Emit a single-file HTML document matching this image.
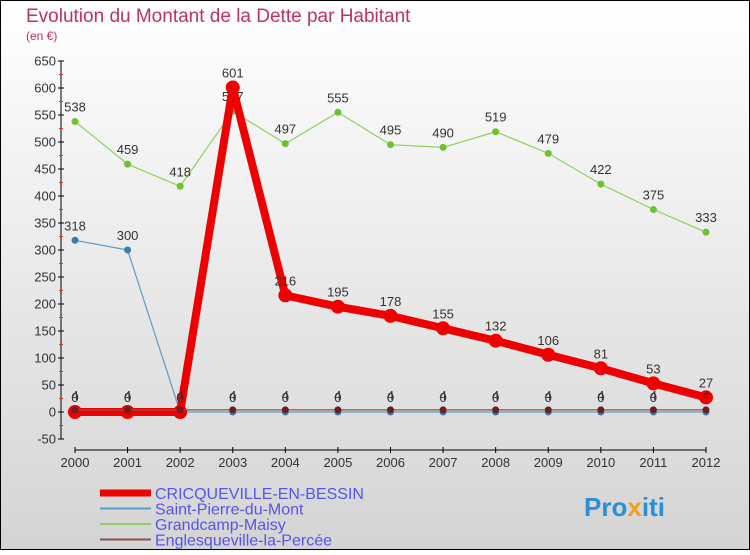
<!DOCTYPE html>
<html><head><meta charset="utf-8"><style>
html,body{margin:0;padding:0}
body{width:750px;height:550px;overflow:hidden;font-family:"Liberation Sans",sans-serif}
svg text{font-family:"Liberation Sans",sans-serif}
</style></head><body>
<svg id="chart" width="750" height="550" xmlns="http://www.w3.org/2000/svg">
<defs><linearGradient id="bg" x1="0" y1="0" x2="0" y2="1"><stop offset="0" stop-color="#ffffff"/><stop offset="1" stop-color="#d4d4d4"/></linearGradient></defs>
<rect x="0.5" y="0.5" width="749" height="549" fill="url(#bg)" stroke="#000"/>
<text x="26" y="22" font-size="19" fill="#c0335e">Evolution du Montant de la Dette par Habitant</text>
<text x="26" y="40" font-size="12" fill="#c0335e">(en €)</text>
<g id="axes"></g>
<g id="series"></g>
<g id="legend"></g>
<text x="584" y="516" font-size="26" font-weight="bold" fill="#2a8fd6">Pro<tspan fill="#f0a020">x</tspan>iti</text>
</svg>
<script>
const years = [2000,2001,2002,2003,2004,2005,2006,2007,2008,2009,2010,2011,2012];
const yTicks = [-50,0,50,100,150,200,250,300,350,400,450,500,550,600,650];
const cricoValues = [0,0,0,601,216,195,178,155,132,106,81,53,27];
const stPierreValues = [318,300,0,0,0,0,0,0,0,0,0,0,0];
const grandcampValues = [538,459,418,557,497,555,495,490,519,479,422,375,333];
const englesValues = [4,4,4,4,4,4,4,4,4,4,4,4,4];
const seriesNames = ["CRICQUEVILLE-EN-BESSIN","Saint-Pierre-du-Mont","Grandcamp-Maisy","Englesqueville-la-Percée"];

const NS="http://www.w3.org/2000/svg";
function xS(i){return 75+i*(706-75)/(years.length-1);}
function yS(v){return 412-v*(412-61)/650;}
function mk(tag,attrs,parent){const e=document.createElementNS(NS,tag);for(const k in attrs)e.setAttribute(k,attrs[k]);parent.appendChild(e);return e;}
const axes=document.getElementById('axes'), ser=document.getElementById('series'), leg=document.getElementById('legend');

const yAxis=mk('line',{x1:61,y1:61,x2:61,y2:439,stroke:'#000'},axes);


yTicks.forEach((t,k)=>{
  const y=yS(t);
  mk('line',{x1:58,y1:y,x2:64,y2:y,stroke:'#000'},axes);
  if(k<yTicks.length-1) mk('line',{x1:59,y1:y-13.5,x2:63,y2:y-13.5,stroke:'#e03030'},axes);
  const tx=mk('text',{x:56,y:y+4.5,'font-size':13,'text-anchor':'end',fill:'#333'},axes);
  tx.textContent=t;
  
  
});
const xAxis=mk('line',{x1:75,y1:450,x2:706,y2:450,stroke:'#000'},axes);


years.forEach((yr,i)=>{
  const x=xS(i);
  mk('line',{x1:x,y1:447,x2:x,y2:453,stroke:'#000'},axes);
  const tx=mk('text',{x:x,y:467,'font-size':13,'text-anchor':'middle',fill:'#333'},axes);
  tx.textContent=yr;
  
  
});

function drawSeries(vals,color,width,r,name,dotColor){
  const g=mk('g',{},ser);
  
  
  const pts=vals.map((v,i)=>xS(i)+','+yS(v)).join(' ');
  mk('polyline',{points:pts,fill:'none',stroke:color,'stroke-width':width,'stroke-linejoin':'round'},g);
  vals.forEach((v,i)=>{
    const c=mk('circle',{cx:xS(i),cy:yS(v),r:r,fill:dotColor||color},g);
    
    
    const t=mk('text',{x:xS(i),y:yS(v)-10,'font-size':13,'text-anchor':'middle',fill:'#333'},g);
    t.textContent=v;
  });
}
drawSeries(grandcampValues,'#8fd060',1.2,3.5,'series-grandcamp','#70c030');
drawSeries(stPierreValues,'#5a9ec8',1.2,3.5,'series-saint-pierre','#3a7eb0');
drawSeries(cricoValues,'#ee0000',8,7,'series-cricqueville','#ee0000');
drawSeries(englesValues,'#8a5050',1.2,3.5,'series-englesqueville','#6a2020');

const legColors=['#ee0000','#5a9ec8','#8fd060','#8a5050'];
const legW=[7,2,2,2];
seriesNames.forEach((n,i)=>{
  const y=493+i*15.5;
  const g=mk('g',{},leg);
  
  
  mk('line',{x1:100,y1:y,x2:151,y2:y,stroke:legColors[i],'stroke-width':legW[i]},g);
  const t=mk('text',{x:155,y:y+6,'font-size':16,fill:'#5555ee'},g);
  t.textContent=n;
});
</script>
</body></html>
